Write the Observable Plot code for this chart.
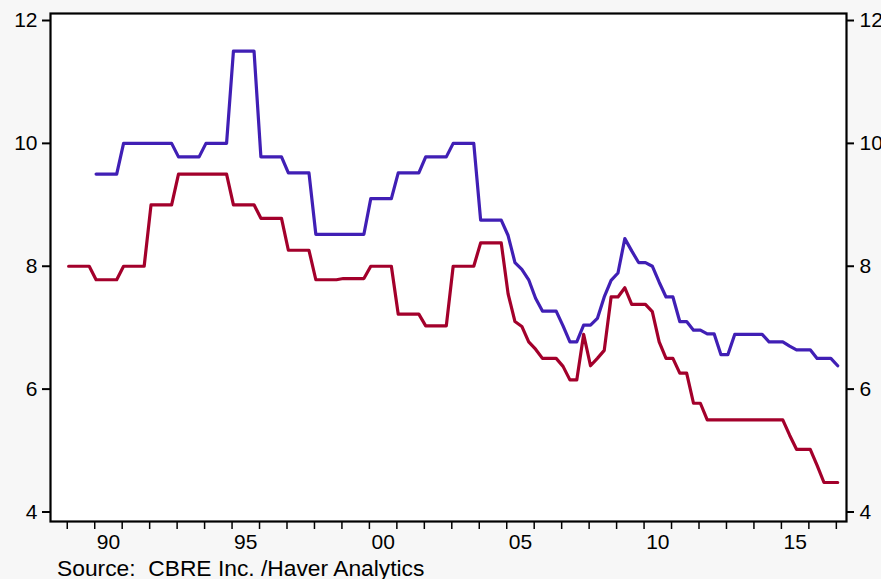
<!DOCTYPE html>
<html><head><meta charset="utf-8">
<script src="https://cdn.jsdelivr.net/npm/d3@7"></script>
<script src="https://cdn.jsdelivr.net/npm/@observablehq/plot@0.6"></script>
<style>
html,body{margin:0;padding:0;background:#f7f7f7;}
#chart{width:881px;height:579px;position:relative;font-family:"Liberation Sans",Arial,Helvetica,sans-serif;}
#chart svg{position:absolute;left:0;top:0;}
#chart svg text{font-size:21px;}
#source{position:absolute;left:57px;top:557px;font-size:22.8px;line-height:22px;color:#000;white-space:pre;}
</style></head><body>
<div id="chart"><div id="source">Source:  CBRE Inc. /Haver Analytics</div></div>
<script>
// Quarterly series; red begins 1989Q1, blue begins 1990Q1, both end 2017Q1
const redStart = 1989;
const blueStart = 1990;
const redValues = [
  8.0, 8.0, 8.0, 8.0,
  7.78, 7.78, 7.78, 7.78,
  8.0, 8.0, 8.0, 8.0,
  9.0, 9.0, 9.0, 9.0,
  9.5, 9.5, 9.5, 9.5, 9.5, 9.5, 9.5, 9.5,
  9.0, 9.0, 9.0, 9.0,
  8.78, 8.78, 8.78, 8.78,
  8.26, 8.26, 8.26, 8.26,
  7.78, 7.78, 7.78, 7.78,
  7.8, 7.8, 7.8, 7.8,
  8.0, 8.0, 8.0, 8.0,
  7.22, 7.22, 7.22, 7.22,
  7.03, 7.03, 7.03, 7.03,
  8.0, 8.0, 8.0, 8.0,
  8.38, 8.38, 8.38, 8.38,
  7.55, 7.1, 7.02, 6.77, 6.65,
  6.5, 6.5, 6.5,
  6.37, 6.15, 6.15,
  6.89, 6.38, 6.5, 6.63,
  7.5, 7.5, 7.65,
  7.38, 7.38, 7.38,
  7.26, 6.77,
  6.5, 6.5,
  6.26, 6.26,
  5.77, 5.77,
  5.5, 5.5, 5.5, 5.5, 5.5, 5.5, 5.5, 5.5, 5.5, 5.5, 5.5, 5.5,
  5.25,
  5.02, 5.02, 5.02,
  4.76,
  4.48, 4.48, 4.48
];
const blueValues = [
  9.5, 9.5, 9.5, 9.5,
  10.0, 10.0, 10.0, 10.0, 10.0, 10.0, 10.0, 10.0,
  9.78, 9.78, 9.78, 9.78,
  10.0, 10.0, 10.0, 10.0,
  11.5, 11.5, 11.5, 11.5,
  9.78, 9.78, 9.78, 9.78,
  9.52, 9.52, 9.52, 9.52,
  8.52, 8.52, 8.52, 8.52, 8.52, 8.52, 8.52, 8.52,
  9.1, 9.1, 9.1, 9.1,
  9.52, 9.52, 9.52, 9.52,
  9.78, 9.78, 9.78, 9.78,
  10.0, 10.0, 10.0, 10.0,
  8.75, 8.75, 8.75, 8.75,
  8.5, 8.06, 7.95, 7.78, 7.48,
  7.27, 7.27, 7.27,
  7.03, 6.77, 6.77,
  7.04, 7.04, 7.15, 7.5, 7.77, 7.89,
  8.45, 8.25, 8.06, 8.06, 8.0, 7.74,
  7.5, 7.5,
  7.1, 7.1,
  6.96, 6.96,
  6.9, 6.9,
  6.56, 6.56,
  6.89, 6.89, 6.89, 6.89, 6.89,
  6.77, 6.77, 6.77,
  6.7,
  6.64, 6.64, 6.64,
  6.5, 6.5, 6.5,
  6.38
];
const yTicks = [4, 6, 8, 10, 12];
const yearTicks = d3.range(1989, 2018);
const labelYears = [1990, 1995, 2000, 2005, 2010, 2015];
const labelTexts = ["90", "95", "00", "05", "10", "15"];

const qOffset = 0.05;
const redRows = redValues.map((v, i) => ({t: redStart + i / 4 + qOffset, v}));
const blueRows = blueValues.map((v, i) => ({t: blueStart + i / 4 + qOffset, v}));
const labelPos = labelYears.map(y => y + 0.5);

const chart = Plot.plot({
  width: 881,
  height: 555,
  marginLeft: 50,
  marginRight: 35,
  marginTop: 13,
  marginBottom: 34,
  style: {background: "transparent", fontFamily: "'Liberation Sans', Arial, Helvetica, sans-serif", fontSize: "21px", color: "#000"},
  x: {domain: [1988.39, 2017.37], label: null},
  y: {domain: [3.845, 12.114], label: null},
  marks: [
    Plot.frame({fill: "white", stroke: null}),
    Plot.line(redRows, {x: "t", y: "v", stroke: "#a3002b", strokeWidth: 3.2, strokeLinejoin: "round"}),
    Plot.line(blueRows, {x: "t", y: "v", stroke: "#401fb5", strokeWidth: 3.2, strokeLinejoin: "round"}),
    Plot.frame({stroke: "#000", strokeWidth: 2.2}),
    Plot.axisY(yTicks, {anchor: "left", tickSize: 8, tickPadding: 5, strokeWidth: 2, fontSize: 21, label: null, tickFormat: d3.format("d")}),
    Plot.axisY(yTicks, {anchor: "right", tickSize: 7, tickPadding: 6, strokeWidth: 2, fontSize: 21, label: null, tickFormat: d3.format("d")}),
    Plot.axisX(yearTicks, {anchor: "bottom", tickSize: 8, tickFormat: () => "", strokeWidth: 1.5, label: null}),
    Plot.axisX(labelPos, {anchor: "bottom", tickSize: 0, tickPadding: 13, fontSize: 21, label: null,
      tickFormat: d => labelTexts[labelYears.indexOf(Math.round(d - 0.5))]})
  ]
});
document.getElementById("chart").prepend(chart);
</script>
</body></html>
